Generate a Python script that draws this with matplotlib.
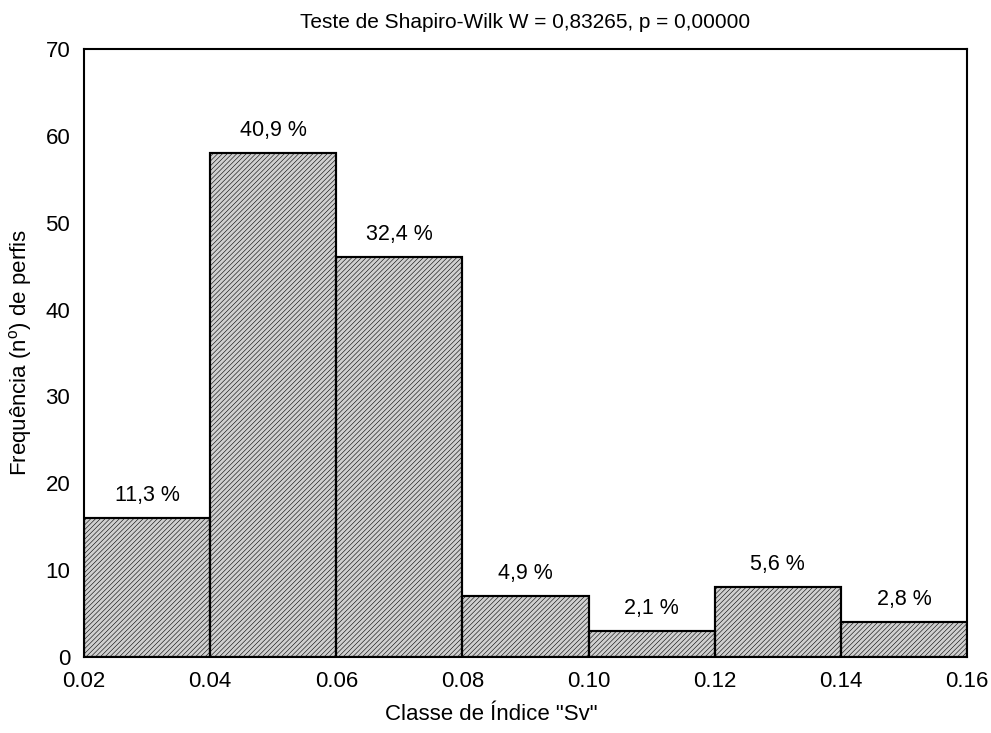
import matplotlib.pyplot as plt
import numpy as np

plt.rcParams["font.family"] = ["Liberation Sans", "DejaVu Sans"]
plt.rcParams["hatch.linewidth"] = 0.4
plt.rcParams["hatch.color"] = "#b0b0b0"

bin_edges = [0.02, 0.04, 0.06, 0.08, 0.10, 0.12, 0.14, 0.16]
counts = [16, 58, 46, 7, 3, 8, 4]
pct_labels = ["11,3 %", "40,9 %", "32,4 %", "4,9 %", "2,1 %", "5,6 %", "2,8 %"]
x_ticks = [0.02, 0.04, 0.06, 0.08, 0.10, 0.12, 0.14, 0.16]
y_ticks = [0, 10, 20, 30, 40, 50, 60, 70]

fig = plt.figure(figsize=(9.91, 7.33), dpi=100)
ax = fig.add_axes([0.0848, 0.1037, 0.8910, 0.8295])

lefts = np.array(bin_edges[:-1])
widths = np.diff(bin_edges)
ax.bar(lefts, counts, width=widths, align="edge", color="#d0d0d0",
       edgecolor="black", linewidth=1.5, hatch="///////")
# redraw outlines so hatch colour doesn't affect edges
ax.bar(lefts, counts, width=widths, align="edge", fill=False,
       edgecolor="black", linewidth=1.5)

for left, w, c, lab in zip(lefts, widths, counts, pct_labels):
    ax.text(left + w / 2, c + 1.4, lab, ha="center", va="bottom", fontsize=15.5)

ax.set_xlim(0.02, 0.16)
ax.set_ylim(0, 70)
ax.set_xticks(x_ticks)
ax.set_xticklabels([f"{t:.2f}" for t in x_ticks])
ax.set_yticks(y_ticks)
ax.tick_params(length=0, labelsize=16, pad=10)
for s in ax.spines.values():
    s.set_linewidth(1.5)

ax.set_title("Teste de Shapiro-Wilk W = 0,83265, p = 0,00000", fontsize=15, pad=15)
ax.set_xlabel('Classe de Índice "Sv"', fontsize=16)
ax.xaxis.set_label_coords(0.461, -0.077)
ax.set_ylabel("Frequência (n$^{\\mathregular{o}}$) de perfis", fontsize=16, labelpad=8)

fig.savefig("out.png", dpi=100)
